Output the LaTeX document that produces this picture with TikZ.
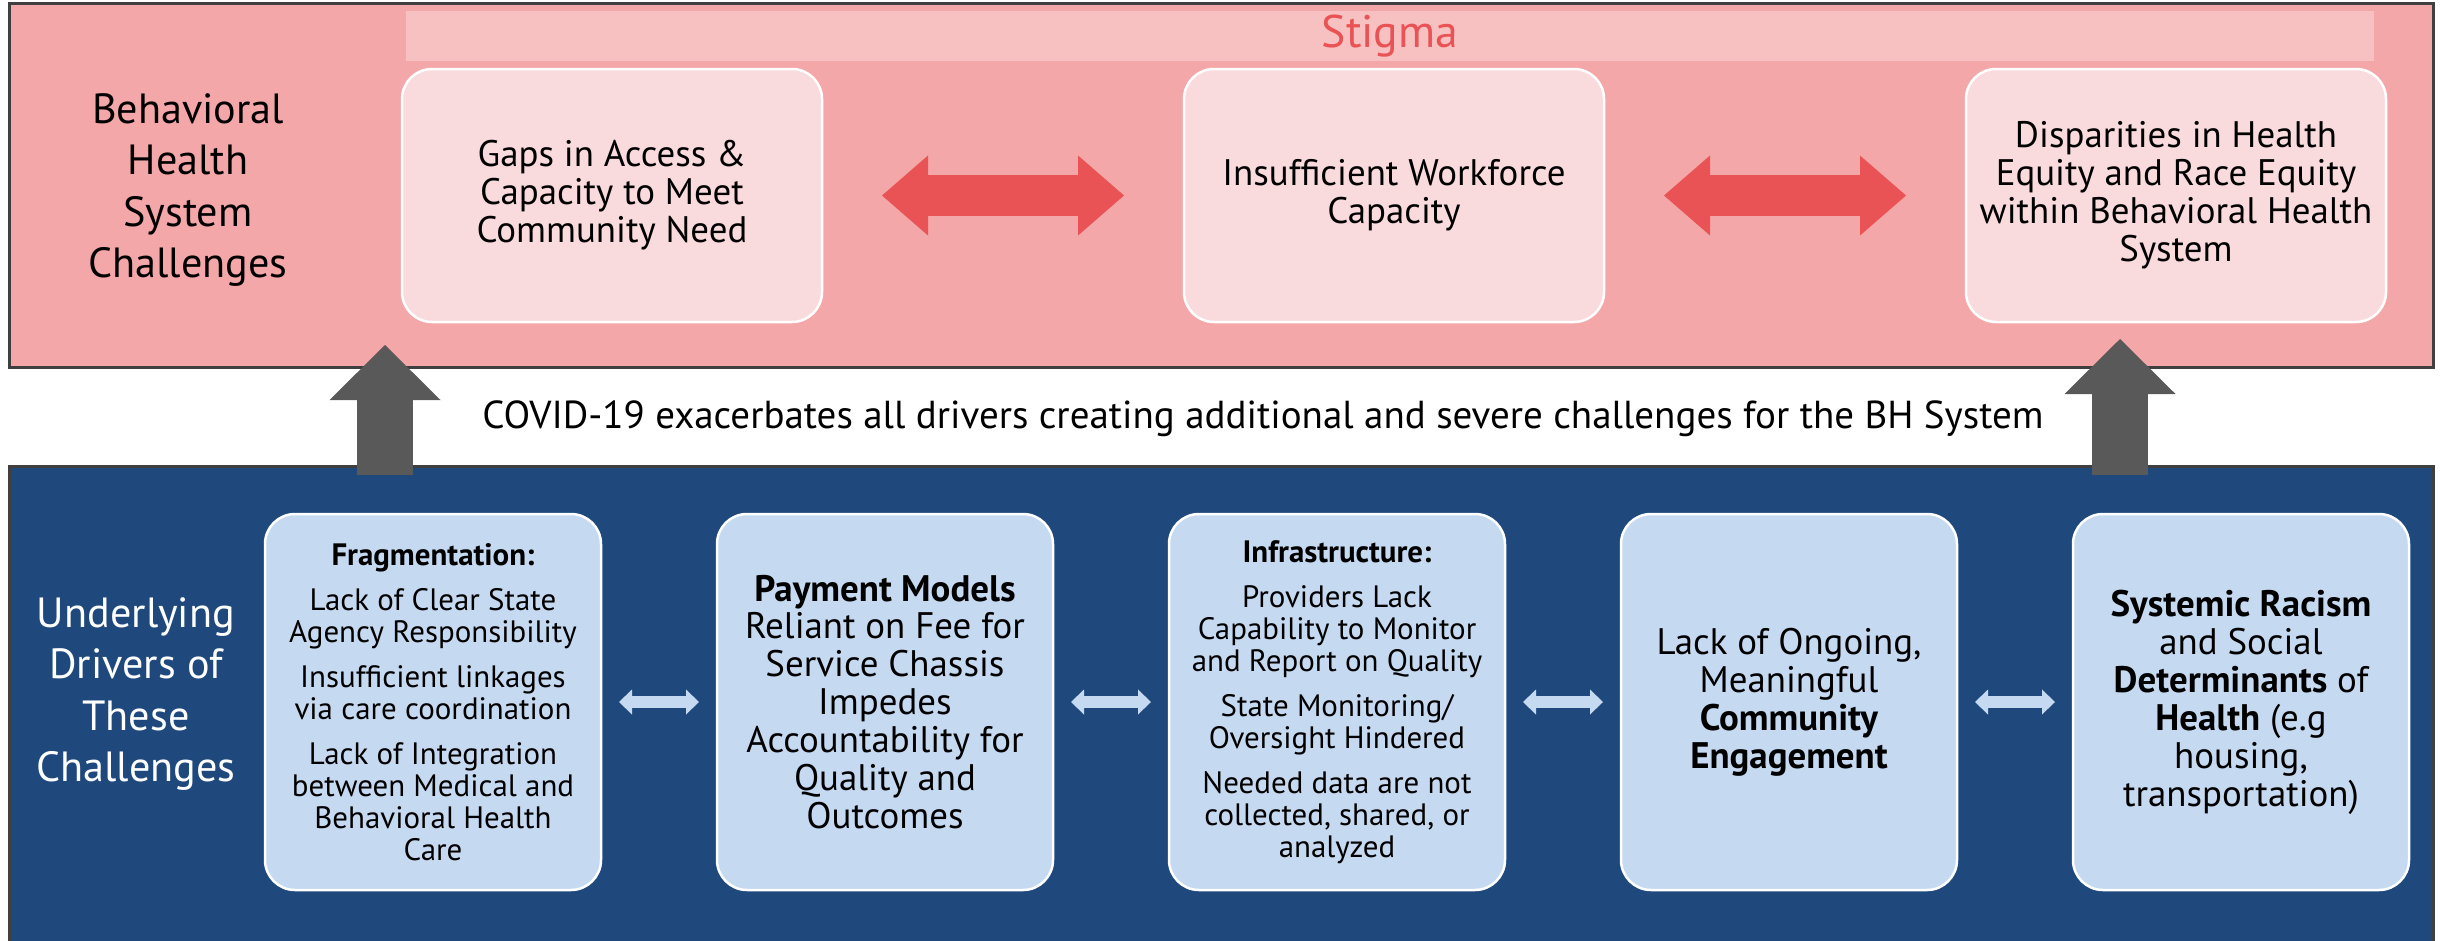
\documentclass[tikz,border=0pt]{standalone}
\usepackage{fontspec}
\setmainfont{PT Sans}
\usetikzlibrary{positioning,arrows.meta}

\definecolor{bhpink}{HTML}{F4A7A8}
\definecolor{stigmaband}{HTML}{F7C1C1}
\definecolor{bhbox}{HTML}{FADBDD}
\definecolor{bhred}{HTML}{E95355}
\definecolor{drvblue}{HTML}{1F497D}
\definecolor{drvbox}{HTML}{C5D9F1}
\definecolor{covgray}{HTML}{595959}
\definecolor{rim}{HTML}{3F3F3F}

\begin{document}
\begin{tikzpicture}[
x=0.1mm, y=-0.1mm,
node distance = 11.6mm and 11.6mm,
panel/.style={rectangle, draw=rim, line width=0.3mm, anchor=north west, inner sep=0pt, outer sep=0pt},
challenge/.style={rectangle, rounded corners=3mm, fill=bhbox, draw=white, line width=0.25mm, minimum width=42mm, minimum height=25.3mm, align=center, inner sep=0pt, outer sep=0pt, font=\fontsize{10.5}{10.8}\selectfont},
driver/.style={challenge, fill=drvbox, minimum width=33.6mm, minimum height=37.6mm},
smalltext/.style={font=\fontsize{8.8}{9.1}\selectfont},
sidelabel/.style={align=center, font=\fontsize{12}{14.6}\selectfont},
both/.style={bhred, line width=4.1mm, {Triangle[width=8mm,length=4.6mm,line width=0pt]}-{Triangle[width=8mm,length=4.6mm,line width=0pt]}, shorten <=6mm, shorten >=6mm},
link/.style={drvbox, line width=1.2mm, {Triangle[width=2.5mm,length=1.3mm,line width=0pt]}-{Triangle[width=2.5mm,length=1.3mm,line width=0pt]}, shorten <=1.8mm, shorten >=1.8mm},
lift/.style={covgray, line width=5.6mm, -{Triangle[width=11.1mm,length=5.5mm,line width=0pt]}}]

\useasboundingbox (0,0) rectangle (2440,940);

\node[panel, fill=bhpink, minimum width=242.4mm, minimum height=36.4mm] (bhs) at (9.5,3) {};
\node[panel, fill=drvblue, minimum width=242.4mm, minimum height=48mm] (drivers) at (9.5,466) {};

\node[rectangle, fill=stigmaband, anchor=north west, inner sep=0pt, outer sep=0pt, minimum width=196.8mm, minimum height=5mm, text=bhred, font=\fontsize{13}{13}\selectfont] (stigma) at (406,11) {Stigma};

\node[sidelabel] (bhslabel) at (188,190) {Behavioral\\Health\\System\\Challenges};
\node[sidelabel, text=white] (drvlabel) at (136,694) {Underlying\\Drivers of\\These\\Challenges};

\node[challenge] (gaps) at (612,195.5) {Gaps in Access \&\\Capacity to Meet\\Community Need};
\node[challenge, right=36.2mm of gaps] (workforce) {Insufficient Workforce\\Capacity};
\node[challenge, right=36.2mm of workforce] (equity) {Disparities in Health\\Equity and Race Equity\\within Behavioral Health\\System};

\node[font=\fontsize{11.1}{12}\selectfont] (covid) at (1263,419) {COVID-19 exacerbates all drivers creating additional and severe challenges for the BH System};

\node[driver, smalltext] (frag) at (433,702) {\textbf{Fragmentation:}\\[3.7pt]Lack of Clear State\\Agency Responsibility\\[3.7pt]Insufficient linkages\\via care coordination\\[3.7pt]Lack of Integration\\between Medical and\\Behavioral Health\\Care};
\node[driver, right=of frag] (payment) {\textbf{Payment Models}\\Reliant on Fee for\\Service Chassis\\Impedes\\Accountability for\\Quality and\\Outcomes};
\node[driver, smalltext, right=of payment] (infra) {\textbf{Infrastructure:}\\[3.7pt]Providers Lack\\Capability to Monitor\\and Report on Quality\\[3.7pt]State Monitoring/\\Oversight Hindered\\[3.7pt]Needed data are not\\collected, shared, or\\analyzed};
\node[driver, right=of infra] (engage) {Lack of Ongoing,\\Meaningful\\\textbf{Community}\\\textbf{Engagement}};
\node[driver, right=of engage] (racism) {\textbf{Systemic Racism}\\and Social\\\textbf{Determinants} of\\\textbf{Health} (e.g\\housing,\\transportation)};

\draw[both] (gaps) -- (workforce);
\draw[both] (workforce) -- (equity);

\draw[link] (frag) -- (payment);
\draw[link] (payment) -- (infra);
\draw[link] (infra) -- (engage);
\draw[link] (engage) -- (racism);

\coordinate (liftl) at (385,0);
\coordinate (liftr) at (2120,0);
\draw[lift] ([yshift=-0.9mm]drivers.north -| liftl) -- ([yshift=2.2mm]bhs.south -| liftl);
\draw[lift] ([yshift=-0.9mm]drivers.north -| liftr) -- ([yshift=2.8mm]bhs.south -| liftr);
\end{tikzpicture}
\end{document}
